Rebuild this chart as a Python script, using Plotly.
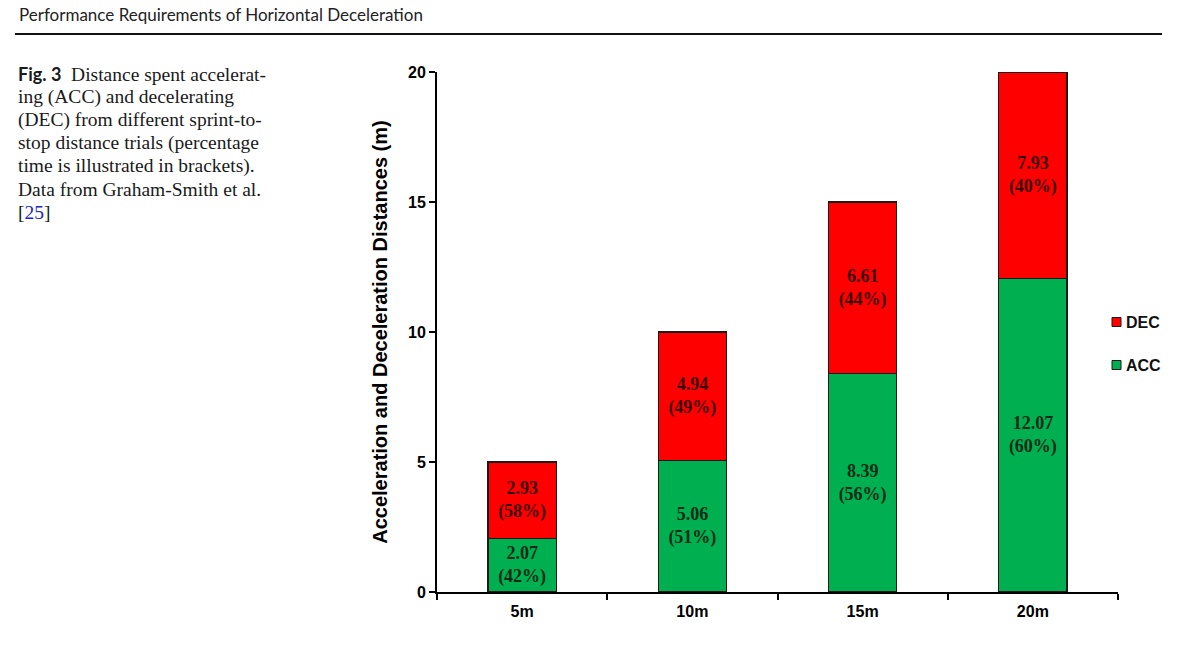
import plotly.graph_objects as go

categories = ["5m", "10m", "15m", "20m"]
acc_values = [2.07, 5.06, 8.39, 12.07]
dec_values = [2.93, 4.94, 6.61, 7.93]
acc_pct = [42, 51, 56, 60]
dec_pct = [58, 49, 44, 40]
y_ticks = [0, 5, 10, 15, 20]

W, H = 1200, 654
L, T = 437, 72
R = W - 1118
B = H - 592
PW, PH = W - L - R, H - T - B

def px(x):
    return (x - L) / PW

def py(y):
    return (H - B - y) / PH

acc_text = [f"<b>{v:.2f}<br>({p}%)</b>" for v, p in zip(acc_values, acc_pct)]
dec_text = [f"<b>{v:.2f}<br>({p}%)</b>" for v, p in zip(dec_values, dec_pct)]

GREEN, RED = "#00b050", "#ff0000"

fig = go.Figure()
fig.add_trace(go.Bar(
    x=categories, y=acc_values, name="ACC",
    marker=dict(color=GREEN, line=dict(color="#1a1a1a", width=1.2)),
    text=acc_text, textposition="inside", insidetextanchor="middle",
    textfont=dict(family="Liberation Serif", size=18, color="#0d2a16"),
    constraintext="none", width=0.4,
))
fig.add_trace(go.Bar(
    x=categories, y=dec_values, name="DEC",
    marker=dict(color=RED, line=dict(color="#1a1a1a", width=1.2)),
    text=dec_text, textposition="inside", insidetextanchor="middle",
    textfont=dict(family="Liberation Serif", size=18, color="#3a0505"),
    constraintext="none", width=0.4,
))

annotations = []
shapes = []
annotations.append(dict(
    x=px(17), y=py(15), xref="paper", yref="paper", xanchor="left", yanchor="middle",
    text="Performance Requirements of Horizontal Deceleration", showarrow=False,
    font=dict(family="Lato", size=17, color="#222"),
))
caption = [
    "<span style='font-family:Lato;font-size:18px'><b>Fig. 3</b></span>  Distance spent accelerat-",
    "ing (ACC) and decelerating",
    "(DEC) from different sprint-to-",
    "stop distance trials (percentage",
    "time is illustrated in brackets).",
    "Data from Graham-Smith et al.",
    "[<span style='color:#2222cc'>25</span>]",
]
for i, line in enumerate(caption):
    annotations.append(dict(
        x=px(16), y=py(74 + 23 * i), xref="paper", yref="paper",
        xanchor="left", yanchor="middle", text=line, showarrow=False,
        font=dict(family="Liberation Serif", size=19.5, color="#1a1a1a"),
    ))

# legend (drawn manually for exact placement)
legend_items = [("DEC", RED, 322), ("ACC", GREEN, 365)]
for name, col, yy in legend_items:
    shapes.append(dict(type="rect", xref="paper", yref="paper",
                       x0=px(1112), x1=px(1121), y0=py(yy - 4.5), y1=py(yy + 4.5),
                       fillcolor=col, line=dict(color="#1a1a1a", width=1)))
    annotations.append(dict(x=px(1124), y=py(yy), xref="paper", yref="paper",
                            xanchor="left", yanchor="middle", showarrow=False,
                            text=f"<b>{name}</b>",
                            font=dict(family="Liberation Sans", size=16, color="#111")))

shapes.append(dict(type="line", xref="paper", yref="paper",
                   x0=px(15), x1=px(1162), y0=py(34), y1=py(34),
                   line=dict(color="#111", width=2)))

fig.update_layout(
    width=W, height=H,
    margin=dict(l=L, r=R, t=T, b=B),
    barmode="stack",
    plot_bgcolor="white", paper_bgcolor="white",
    showlegend=False,
    annotations=annotations,
    shapes=shapes,
    xaxis=dict(
        showline=True, linecolor="black", linewidth=2,
        ticks="outside", tickson="boundaries", ticklen=6, tickwidth=2, tickcolor="black",
        tickmode="array", tickvals=categories,
        ticktext=[f"<b>{c}</b>" for c in categories],
        tickfont=dict(family="Liberation Sans", size=16, color="black"),
        ticklabelstandoff=4,
        range=[-0.5, 3.5],
    ),
    yaxis=dict(
        range=[0, 20], tickmode="array", tickvals=y_ticks,
        ticktext=[f"<b>{t}</b>" for t in y_ticks],
        showgrid=False, zeroline=False,
        showline=True, linecolor="black", linewidth=2,
        ticks="outside", ticklen=6, tickwidth=2, tickcolor="black",
        tickfont=dict(family="Liberation Sans", size=16, color="black"),
        title=dict(text="<b>Acceleration and Deceleration Distances (m)</b>",
                   font=dict(family="Liberation Sans", size=20, color="black"),
                   standoff=15),
    ),
)

fig.write_html("out.html", config={"displayModeBar": False},
               post_script="document.body.style.margin='0';")
